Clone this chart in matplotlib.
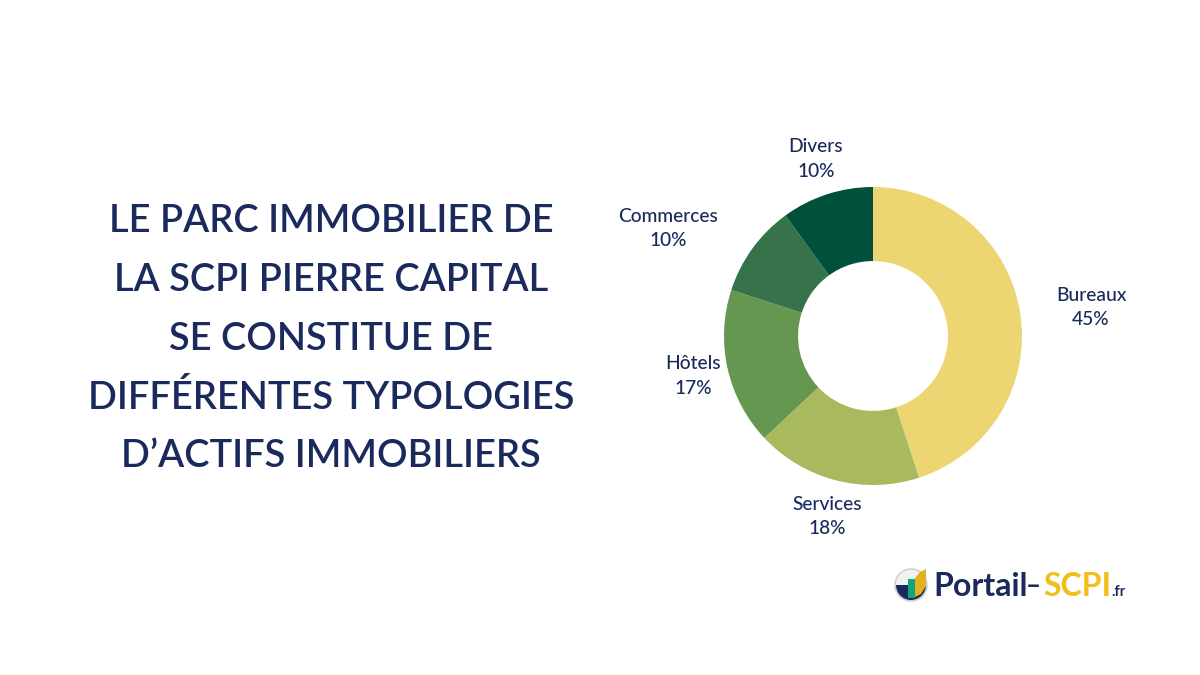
import matplotlib

matplotlib.use("Agg")
import matplotlib.pyplot as plt
from matplotlib.patches import Circle, Polygon, Rectangle, Wedge

CATEGORIES = ["Bureaux", "Services", "Hôtels", "Commerces", "Divers"]
SHARES = [45, 18, 17, 10, 10]
COLORS = ["#EDD672", "#A9BA5E", "#659751", "#37734A", "#00503C"]

TITLE_LINES = [
    "LE PARC IMMOBILIER DE",
    "LA SCPI PIERRE CAPITAL",
    "SE CONSTITUE DE",
    "DIFFÉRENTES TYPOLOGIES",
    "D’ACTIFS IMMOBILIERS",
]

NAVY = "#1B2A5C"
W, H = 1200, 675

plt.rcParams["font.family"] = ["Lato", "DejaVu Sans"]

fig = plt.figure(figsize=(12, 6.75), dpi=100, facecolor="white")

# donut, axes placed so the centre lands at (873, 336) in pixels
cx, cy, r = 873, 336, 149
ax = fig.add_axes([(cx - r) / W, 1 - (cy + r) / H, 2 * r / W, 2 * r / H])
ax.pie(
    SHARES,
    colors=COLORS,
    startangle=90,
    counterclock=False,
    radius=1.0,
    wedgeprops={"width": 0.497, "linewidth": 0},
)
ax.set_xlim(-1, 1)
ax.set_ylim(-1, 1)

# labels are pixel placed, same as the original layout
LABEL_POS = [(1091, 307), (827, 516), (693, 376), (668, 228), (816, 159)]
for name, share, (px, py) in zip(CATEGORIES, SHARES, LABEL_POS):
    fig.text(px / W, 1 - (py - 12) / H, name, ha="center", va="center",
             fontsize=13.8, color=NAVY, fontweight="medium")
    fig.text(px / W, 1 - (py + 12) / H, f"{share}%", ha="center", va="center",
             fontsize=13.8, color=NAVY, fontweight="medium")

# title block
for i, line in enumerate(TITLE_LINES):
    fig.text(331 / W, 1 - (222 + i * 58.7) / H, line, ha="center", va="center",
             fontsize=27.4, color=NAVY, fontweight="semibold")

# logo
logo = fig.add_axes([0, 0, 1, 1], facecolor="none")
logo.set_xlim(0, W)
logo.set_ylim(H, 0)
logo.axis("off")
logo.add_patch(Circle((911, 585), 16, facecolor="#F2F2F2", edgecolor="#C8CCD0", linewidth=1))
logo.add_patch(Wedge((911, 585), 15, 0, 180, facecolor=NAVY, linewidth=0))
logo.add_patch(Rectangle((908, 579), 7, 19, facecolor="#12A37F", linewidth=0))
logo.add_patch(Polygon([(915, 597), (915, 578), (920, 572), (926, 569), (926, 586), (921, 594)],
                       facecolor="#E3B21C", linewidth=0))
logo.text(933, 586, "Portail", ha="left", va="center", fontsize=23,
          color=NAVY, fontweight="bold")
logo.text(1026, 586, "–", ha="left", va="center", fontsize=19,
          color=NAVY, fontweight="bold")
logo.text(1043, 586, "SCPI", ha="left", va="center", fontsize=23,
          color="#F2BE1A", fontweight="bold")
logo.text(1111, 592, ".fr", ha="left", va="center", fontsize=10.5,
          color=NAVY, fontweight="bold")

fig.savefig("out.png", dpi=100, facecolor="white")
plt.close(fig)
